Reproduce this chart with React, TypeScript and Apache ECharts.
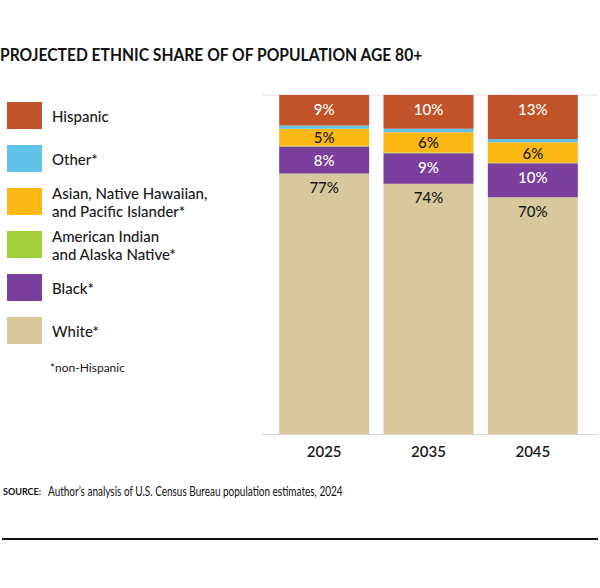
import React, { useEffect, useRef } from "react";
import * as echarts from "echarts";

const years = ["2025", "2035", "2045"];
const white = [77, 74, 70];
const black = [8, 9, 10];
const americanIndian = [0.2, 0.2, 0.2];
const asian = [5, 6, 6];
const other = [1, 1, 1];
const hispanic = [9, 10, 13];

const legendNames = [
  "Hispanic",
  "Other*",
  "Asian, Native Hawaiian,\nand Pacific Islander*",
  "American Indian\nand Alaska Native*",
  "Black*",
  "White*",
];

const COLORS = {
  white: "#D8C89E",
  black: "#7A3E9C",
  americanIndian: "#A3CF3C",
  asian: "#FDB813",
  other: "#62C3E8",
  hispanic: "#C1532B",
};

const FONT = "Lato";

export default function App() {
  const ref = useRef<HTMLDivElement>(null);

  useEffect(() => {
    document.body.style.margin = "0";
    if (!ref.current) return;
    const chart = echarts.init(ref.current, null, { renderer: "svg" });

    const totals = years.map(
      (_, i) =>
        white[i] + black[i] + americanIndian[i] + asian[i] + other[i] + hispanic[i]
    );
    const yMax = Math.max(...totals);

    const label = (position: string, color: string) => ({
      show: true,
      position,
      distance: 6,
      color,
      fontFamily: FONT,
      fontSize: 15,
      fontWeight: 500,
      formatter: "{c}%",
    });

    const bar = (name: string, data: number[], color: string, lbl: any) => ({
      name,
      type: "bar",
      stack: "share",
      data,
      barWidth: 90,
      itemStyle: { color },
      label: lbl,
      emphasis: { disabled: true },
    });

    // one legend block per entry so every swatch sits on a fixed 43px pitch
    const ITEM_H = 27;
    const LINE_H = 18;
    const legends = legendNames.map((name, i) => {
      const lines = name.split("\n").length;
      const textH = lines * LINE_H;
      const blockH = Math.max(ITEM_H, textH);
      return {
        orient: "vertical",
        left: 7,
        top: 102 + 43 * i - (blockH - ITEM_H) / 2,
        padding: 0,
        itemWidth: 35,
        itemHeight: ITEM_H,
        icon: "rect",
        selectedMode: false,
        data: [name],
        textStyle: {
          fontFamily: FONT,
          fontSize: 15,
          fontWeight: 500,
          color: "#1a1a1a",
          lineHeight: LINE_H,
          padding: [0, 0, 0, 5],
        },
      };
    });

    chart.setOption({
      animation: false,
      textStyle: { fontFamily: FONT },
      grid: { left: 272, top: 95, width: 313, height: 339 },
      xAxis: {
        type: "category",
        data: years,
        axisLine: { show: false },
        axisTick: { show: false },
        axisLabel: {
          margin: 9,
          color: "#1a1a1a",
          fontFamily: FONT,
          fontSize: 15,
          fontWeight: 600,
        },
      },
      yAxis: { type: "value", min: 0, max: yMax, show: false },
      legend: legends,
      series: [
        bar("White*", white, COLORS.white, label("insideTop", "#1a1a1a")),
        bar("Black*", black, COLORS.black, label("insideTop", "#ffffff")),
        bar(
          "American Indian\nand Alaska Native*",
          americanIndian,
          COLORS.americanIndian,
          { show: false }
        ),
        bar(
          "Asian, Native Hawaiian,\nand Pacific Islander*",
          asian,
          COLORS.asian,
          label("inside", "#1a1a1a")
        ),
        bar("Other*", other, COLORS.other, { show: false }),
        bar("Hispanic", hispanic, COLORS.hispanic, label("insideTop", "#ffffff")),
      ],
      graphic: [
        {
          type: "text",
          x: 0,
          y: 46,
          scaleX: 0.92,
          style: {
            text: "PROJECTED ETHNIC SHARE OF OF POPULATION AGE 80+",
            fontFamily: FONT,
            fontSize: 17,
            fontWeight: "bold",
            fill: "#111",
          },
        },
        {
          type: "text",
          left: 50,
          top: 361,
          style: {
            text: "*non-Hispanic",
            fontFamily: FONT,
            fontSize: 12,
            fill: "#1a1a1a",
          },
        },
        {
          type: "line",
          shape: { x1: 262, y1: 95, x2: 598, y2: 95 },
          style: { stroke: "#e2e2e2", lineWidth: 1 },
          z: -1,
        },
        {
          type: "line",
          shape: { x1: 262, y1: 434.5, x2: 598, y2: 434.5 },
          style: { stroke: "#d6d6d6", lineWidth: 1 },
          z: -1,
        },
        {
          type: "text",
          left: 3,
          top: 487,
          style: {
            text: "SOURCE:",
            fontFamily: FONT,
            fontSize: 9,
            fontWeight: "bold",
            fill: "#111",
          },
        },
        {
          type: "text",
          x: 48,
          y: 485,
          scaleX: 0.8,
          style: {
            text: "Author’s analysis of U.S. Census Bureau population estimates, 2024",
            fontFamily: FONT,
            fontSize: 12.5,
            fill: "#111",
          },
        },
        {
          type: "line",
          shape: { x1: 2, y1: 539, x2: 598, y2: 539 },
          style: { stroke: "#111", lineWidth: 2 },
        },
      ],
    });

    return () => chart.dispose();
  }, []);

  return <div ref={ref} style={{ width: 600, height: 588 }} />;
}
